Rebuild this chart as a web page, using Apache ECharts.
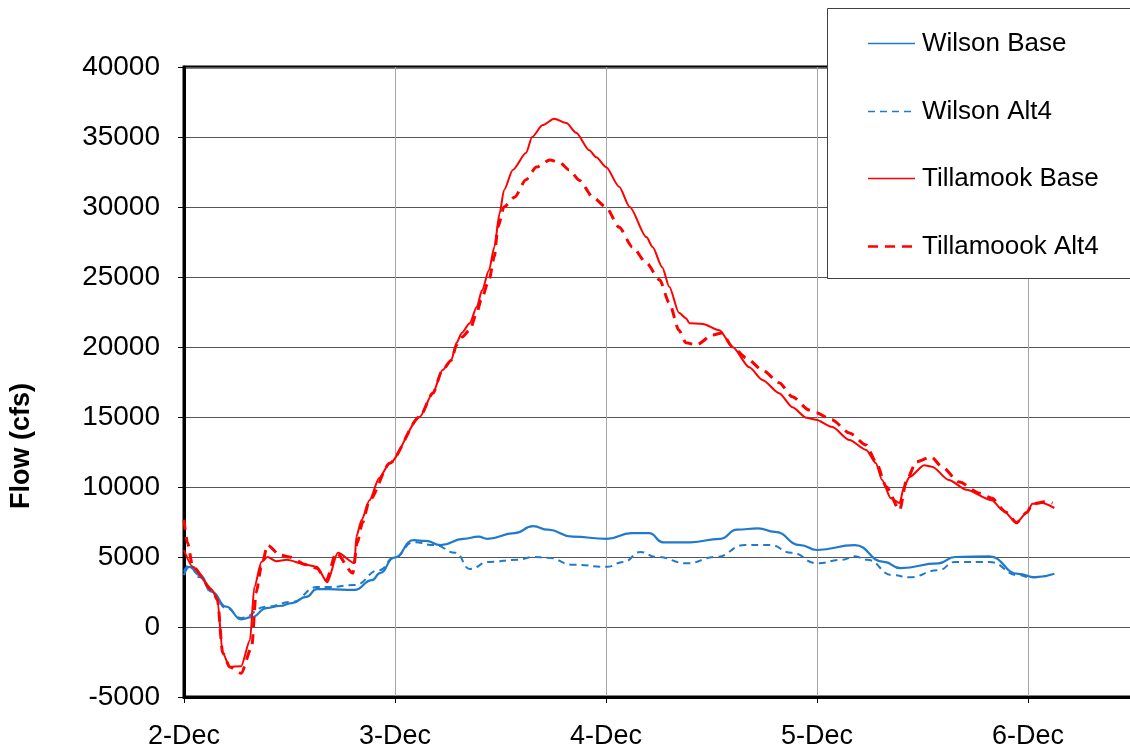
<!DOCTYPE html>
<html>
<head>
<meta charset="utf-8">
<script src="https://cdn.jsdelivr.net/npm/echarts@6/dist/echarts.min.js"></script>
<style>
html,body{margin:0;padding:0;background:#fff;overflow:hidden;width:1130px;height:755px;}
#chart{width:1160px;height:755px;}
</style>
</head>
<body>
<div id="chart"></div>
<script>
// hours since 2-Dec 00:00, flow (cfs)
const seriesNames = ['Wilson Base', 'Wilson Alt4', 'Tillamook Base', 'Tillamoook Alt4'];
const dayLabels = ['2-Dec', '3-Dec', '4-Dec', '5-Dec', '6-Dec'];
const yTicks = [-5000, 0, 5000, 10000, 15000, 20000, 25000, 30000, 35000, 40000];

const wilsonBase = [[0,3700],[0.6,4300],[1.8,3700],[3.2,2500],[4.8,1450],[6.5,550],[7.7,700],[9.4,1350],[10.9,1500],[12.3,1700],[13.9,2150],[15.1,2700],[16.5,2700],[19.4,2650],[21.4,3350],[22.3,3850],[23.9,4950],[26.1,6200],[27.5,6150],[29.2,5850],[31.8,6300],[33.5,6450],[34.5,6300],[37.6,6700],[39.7,7200],[41.4,6950],[44.2,6450],[48.1,6300],[50.9,6700],[52.9,6700],[54.5,6050],[57.6,6050],[61.0,6300],[62.9,6950],[65.3,7050],[67.2,6800],[70.1,5850],[72.0,5500],[76.3,5850],[79.6,4650],[81.5,4200],[85.8,4550],[87.7,5000],[91.6,5050],[94.9,3800],[96.8,3550],[99.0,3800]];

const wilsonAlt4 = [[0,3950],[0.6,4450],[1.8,3550],[3.2,2450],[4.8,1350],[6.5,650],[9.4,1450],[12.3,1800],[15.1,2850],[16.5,2850],[19.4,3000],[22.2,4050],[23.9,4950],[26.1,6050],[28.5,5850],[30.9,5300],[32.5,4150],[34.7,4650],[38.0,4800],[39.7,5000],[41.4,4950],[44.2,4450],[48.1,4300],[50.0,4650],[51.9,5350],[53.8,5000],[57.2,4550],[60.5,5000],[63.8,5850],[66.7,5850],[69.1,5300],[72.0,4550],[74.8,4800],[76.3,5050],[77.7,4800],[80.6,3700],[82.5,3550],[85.8,4050],[87.7,4650],[91.6,4650],[94.9,3700],[96.3,3550],[98.1,3650]];

const tillamookBase = [[0,5500],[1.0,4300],[3.2,2650],[3.8,1950],[4.4,-1850],[5.2,-2850],[6.5,-2800],[7.5,-950],[8.0,2850],[8.8,4650],[9.5,5000],[10.5,4700],[11.7,4800],[13.9,4450],[15.1,4300],[16.3,3200],[17.5,5300],[19.4,4550],[19.6,6450],[20.2,7650],[21.1,9050],[22.2,10650],[23.4,11700],[26.8,15000],[28.3,16700],[29.4,18350],[30.4,19050],[31.0,20300],[31.6,21000],[32.5,21700],[33.3,22850],[33.9,24050],[34.7,25500],[35.3,27150],[35.9,29550],[36.4,31200],[37.4,32650],[38.9,33850],[39.6,35000],[40.8,35850],[42.1,36300],[43.5,36000],[44.6,35300],[46.1,34050],[46.9,33550],[48.0,32850],[49.5,31450],[50.7,30000],[52.6,27850],[53.3,27150],[54.4,25700],[55.2,24300],[56.3,22450],[57.1,22050],[57.5,21700],[59.0,21650],[60.9,21200],[62.4,20000],[64.3,18550],[65.8,17650],[67.7,16700],[69.2,15700],[70.8,14950],[71.9,14800],[73.7,14300],[75.7,13350],[77.6,12650],[78.7,11700],[79.4,10500],[80.4,9200],[81.4,8850],[81.9,10000],[82.5,10700],[84.2,11550],[85.1,11450],[87.0,10500],[89.0,9800],[91.9,9050],[93.1,8350],[94.7,7450],[95.9,8200],[96.5,8800],[97.6,8850],[99.0,8500]];

const tillamookAlt4 = [[0,7650],[0.4,6000],[1.0,4300],[3.2,2650],[3.8,1950],[4.4,-1850],[5.2,-2850],[6.5,-3300],[7.7,-1450],[8.2,2450],[8.8,4300],[9.5,5850],[10.9,5150],[12.0,5000],[13.9,4450],[15.1,4200],[16.2,3350],[17.3,5300],[19.2,3850],[19.7,6000],[20.3,7450],[21.1,9050],[23.4,11700],[26.8,15000],[28.3,16700],[29.4,18350],[30.4,19050],[31.0,20150],[31.6,20700],[32.5,21200],[33.3,22450],[33.8,23350],[34.7,24800],[35.3,26450],[35.7,28550],[36.4,30000],[37.6,30700],[38.9,31950],[40.1,32850],[41.6,33350],[42.7,33200],[43.8,32650],[45.0,31900],[46.5,30700],[48.0,30000],[49.5,28550],[51.0,27150],[52.6,26000],[54.1,24800],[55.2,23150],[56.3,21200],[57.1,20300],[58.3,20150],[60.1,20850],[61.2,21000],[62.4,20000],[64.0,19200],[65.8,18350],[67.7,17450],[69.2,16450],[71.1,15500],[71.9,15300],[73.7,14800],[75.7,13850],[77.6,13000],[78.7,11800],[79.9,10000],[81.4,8350],[82.2,10500],[83.3,11800],[85.0,12150],[86.2,11450],[88.2,10350],[90.5,9550],[91.9,9200],[93.5,8200],[94.7,7450],[95.9,8200],[96.5,8800],[98.1,8950],[98.8,8850]];

const FONT = '"Liberation Sans", Arial, sans-serif';
const BLUE = '#1f7acb';
const RED = '#ff0000';

const styles = [
  {color: BLUE, width: 2.2, type: 'solid'},
  {color: BLUE, width: 2, type: [7, 5]},
  {color: RED, width: 2, type: 'solid'},
  {color: RED, width: 3, type: [10, 7]}
];
const datasets = [wilsonBase, wilsonAlt4, tillamookBase, tillamookAlt4];

// legend drawn as graphics (box, line samples, text)
const legendGraphics = [
  {type: 'rect', z: 100, shape: {x: 827.5, y: 8.5, width: 340, height: 270},
   style: {fill: '#fff', stroke: '#404040', lineWidth: 1}}
];
seriesNames.forEach(function (name, i) {
  const yc = Math.round(43 + i * 67.7) + 0.5;
  const st = styles[i];
  legendGraphics.push({
    type: 'line', z: 101,
    shape: {x1: 868, y1: yc, x2: 915, y2: yc},
    style: {stroke: st.color, lineWidth: st.width === 3 ? 2.5 : 1.5,
            lineDash: Array.isArray(st.type) ? st.type : null}
  });
  legendGraphics.push({
    type: 'text', z: 101, x: 922, y: yc,
    style: {text: name, font: '26px ' + FONT, fill: '#000', textAlign: 'left', textVerticalAlign: 'middle'}
  });
});

const chart = echarts.init(document.getElementById('chart'), null, {renderer: 'canvas'});
chart.setOption({
  animation: false,
  backgroundColor: '#fff',
  grid: {
    left: 184, top: 67, width: 960, height: 630,
    show: true, borderColor: '#000', borderWidth: 3, backgroundColor: 'transparent'
  },
  xAxis: {
    type: 'value', min: 0, max: 109.2, interval: 24,
    axisLine: {show: true, onZero: false, lineStyle: {color: '#000', width: 3}},
    axisTick: {show: true, length: 6, lineStyle: {color: '#000', width: 1}},
    axisLabel: {
      fontFamily: FONT, fontSize: 27, color: '#000', margin: 26,
      formatter: function (v) { const i = Math.round(v / 24); return (Math.abs(v - i * 24) < 1e-6 && dayLabels[i]) ? dayLabels[i] : ''; }
    },
    splitLine: {show: true, lineStyle: {color: '#a6a6a6', width: 1}}
  },
  yAxis: {
    type: 'value', min: yTicks[0], max: yTicks[yTicks.length - 1], interval: 5000,
    axisLine: {show: true, onZero: false, lineStyle: {color: '#000', width: 3}},
    axisTick: {show: true, length: 6, lineStyle: {color: '#000', width: 1}},
    axisLabel: {fontFamily: FONT, fontSize: 28, color: '#000', margin: 24,
      formatter: function (v) { return String(v); }},
    splitLine: {show: true, lineStyle: {color: '#555', width: 1}}
  },
  graphic: legendGraphics.concat([
    {type: 'text', z: 100, x: 22, y: 446, rotation: Math.PI / 2,
     style: {text: 'Flow (cfs)', font: 'bold 27px ' + FONT, fill: '#000', textAlign: 'center', textVerticalAlign: 'middle'}}
  ]),
  series: datasets.map(function (d, i) {
    return {
      name: seriesNames[i], type: 'line', data: d, showSymbol: false, symbol: 'none',
      smooth: i < 2 ? 0.5 : 0.25, smoothMonotone: 'x',
      lineStyle: {color: styles[i].color, width: styles[i].width, type: styles[i].type},
      itemStyle: {color: styles[i].color}
    };
  })
});
</script>
</body>
</html>
